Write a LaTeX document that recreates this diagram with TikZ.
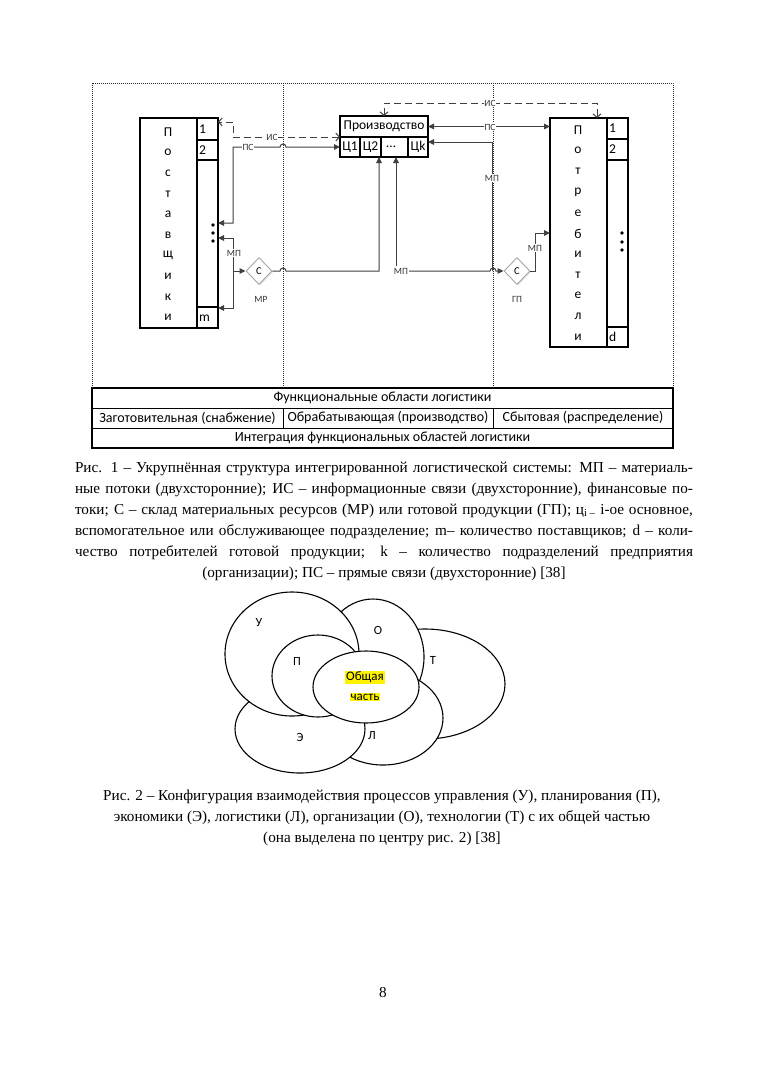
\documentclass[tikz,border=0pt]{standalone}
\usepackage{fontspec}
\setmainfont{Liberation Serif}
\newfontfamily\calibri{Carlito}
\usetikzlibrary{shapes.geometric,arrows.meta,shadows}
\begin{document}
\begin{tikzpicture}[x=1pt,y=-1pt,
  >={Triangle[length=6pt,width=5.5pt]},
  box/.style={draw, line width=1.1pt, inner sep=0pt, outer sep=0pt, anchor=north west, font=\calibri\fontsize{13.5}{15}\selectfont},
  tcell/.style={draw, line width=1pt, inner sep=0pt, outer sep=0pt, anchor=north west, font=\calibri\fontsize{14}{15}\selectfont},
  letter/.style={inner sep=0pt, font=\calibri\fontsize{13.5}{14}\selectfont},
  num/.style={inner sep=0pt, anchor=west, font=\calibri\fontsize{13.5}{15}\selectfont},
  conn/.style={draw=black!75, line width=1pt},
  isd/.style={conn, dash pattern=on 7pt off 4pt, arrows={Straight Barb[length=3.5pt,width=8pt]-Straight Barb[length=3.5pt,width=8pt]}},
  sm/.style={fill=white, inner sep=0.8pt, font=\calibri\fontsize{9.5}{10}\selectfont, text=black!80},
  diam/.style={shape=diamond, draw=black!35, line width=0.9pt, fill=white, minimum width=26pt, minimum height=27pt, inner sep=0pt, font=\calibri\fontsize{10.5}{11}\selectfont, drop shadow={shadow xshift=1.2pt, shadow yshift=-1.2pt, opacity=0.2}},
  dotline/.style={draw=black!85, line width=0.8pt, dash pattern=on 0.8pt off 1.2pt},
  ven/.style={draw, fill=white, line width=1.1pt},
  vl/.style={inner sep=0pt, font=\calibri\fontsize{12.5}{14}\selectfont},
  hl/.style={fill=yellow, inner sep=1pt, font=\calibri\fontsize{13}{14}\selectfont},
  capline/.style={anchor=base, inner sep=0pt, font=\fontsize{15.2}{21}\selectfont},
]
\useasboundingbox[fill=white] (0,0) rectangle (764,1080);

% ---------- dotted frame ----------
\draw[dotline] (92,388) -- (92,83) -- (673,83) -- (673,388);
\draw[dotline] (283,83) -- (283,388);
\draw[dotline] (493,83) -- (493,388);

% ---------- suppliers ----------
\node[box, minimum width=57pt, minimum height=210pt] (supA) at (140,118) {};
\node[box, minimum width=21pt, minimum height=210pt] (supB) at (197,118) {};
\node[box, minimum width=21pt, minimum height=22pt] (sup1) at (197,118) {};
\node[box, minimum width=21pt, minimum height=20pt] (sup2) at (197,140) {};
\node[box, minimum width=21pt, minimum height=21pt] (supm) at (197,307) {};
\node[num] (sn1) at (199,129) {1};
\node[num] (sn2) at (199,150) {2};
\node[num] (snm) at (199,318) {m};
\foreach \c [count=\i from 0] in {П,о,с,т,а,в,щ,и,к,и}
  \node[letter] (sl\i) at (168,{132+20.6*\i}) {\c};
\foreach \y in {225,233,241} \fill (213,\y) circle[radius=1.8];

% ---------- consumers ----------
\node[box, minimum width=57pt, minimum height=229pt] (conA) at (550,118) {};
\node[box, minimum width=21pt, minimum height=229pt] (conB) at (607,118) {};
\node[box, minimum width=21pt, minimum height=21pt] (con1) at (607,118) {};
\node[box, minimum width=21pt, minimum height=21pt] (con2) at (607,139) {};
\node[box, minimum width=21pt, minimum height=20pt] (cond) at (607,327) {};
\node[num] (cn1) at (609,128.5) {1};
\node[num] (cn2) at (609,149.5) {2};
\node[num] (cnd) at (609,337) {d};
\foreach \c [count=\i from 0] in {П,о,т,р,е,б,и,т,е,л,и}
  \node[letter] (cl\i) at (578,{130+20.7*\i}) {\c};
\foreach \y in {233,242,250} \fill (622,\y) circle[radius=1.8];

% ---------- production ----------
\node[box, minimum width=88pt, minimum height=21pt] (prod) at (340,116) {Производство};
\node[box, minimum width=20pt, minimum height=20pt] (c1) at (340,137) {Ц1};
\node[box, minimum width=21pt, minimum height=20pt] (c2) at (360,137) {Ц2};
\node[box, minimum width=27pt, minimum height=20pt] (c3) at (381,137) {\hspace{-7pt}\ldots};
\node[box, minimum width=20pt, minimum height=20pt] (ck) at (408,137) {Цk};

% ---------- warehouses ----------
\node[diam] (dL) at (259,271) {С};
\node[diam] (dR) at (517,271) {С};

% ---------- connectors ----------
% left IS
\draw[isd] (prod.south west) -- (233,137) -- (233,122) -- (supB.east |- 0,122);
% left PS
\draw[conn,<->] (c1.west) -- (286,147) arc[start angle=0,end angle=-180,radius=3] -- (233,147) -- (233,223) -- (supB.east |- 0,223);
% left MP
\draw[conn,<->] (supB.east |- 0,238) -- (233,238) -- (233,308) -- (supB.east |- 0,308);
\draw[conn,->] (233,271) -- (dL.west);
% warehouse MR -> production
\draw[conn,->] (dL.east) -- (280,271) arc[start angle=180,end angle=360,radius=3] -- (379,271) -- ([xshift=-2pt]c2.south east);
% production -> warehouse GP
\draw[conn,->] (396,266) -- ([xshift=1.5pt]c3.south);
\draw[conn,->] (408,271) -- (490,271) arc[start angle=180,end angle=360,radius=3] -- (dR.west);
% GP -> consumers
\draw[conn,->] (dR.east) -- (535,271) -- (535,233) -- (conA.west |- 0,233);
% right IS
\draw[isd] (prod.north) -- ++(0,-13) -| ([xshift=-10pt]conA.north east);
% right PS
\draw[conn,<->] (prod.east) -- (conA.west |- prod.east);
% right MP
\draw[conn,<-] ([yshift=5pt]ck.east) -- (492,142) -- (492,271);

% ---------- connector labels ----------
\node[sm] (lis1) at (272,137) {ИС};
\node[sm] (lps1) at (248,147) {ПС};
\node[sm] (lmp1) at (234,253) {МП};
\node[sm] (lmp2) at (401,271) {МП};
\node[sm] (lmp3) at (535,248) {МП};
\node[sm] (lis2) at (490,103) {ИС};
\node[sm] (lps2) at (490,127) {ПС};
\node[sm] (lmp4) at (492,178) {МП};
\node[sm, fill=none] (lmr) at (261,299) {МР};
\node[sm, fill=none] (lgp) at (517,299) {ГП};

% ---------- table ----------
\node[tcell, minimum width=581pt, minimum height=20pt] (t1) at (92,388) {Функциональные области логистики};
\node[tcell, minimum width=191pt, minimum height=20pt] (t2a) at (92,408) {Заготовительная (снабжение)};
\node[tcell, minimum width=210pt, minimum height=20pt] (t2b) at (283,408) {Обрабатывающая (производство)};
\node[tcell, minimum width=180pt, minimum height=20pt] (t2c) at (493,408) {Сбытовая (распределение)};
\node[tcell, minimum width=581pt, minimum height=20pt] (t3) at (92,428) {Интеграция функциональных областей логистики};
\draw[line width=1.4pt] (t1.north west) rectangle (t3.south east);

% ---------- caption 1 ----------
\node[capline] (c1a) at (384,472) {\makebox[618pt][s]{Рис. 1 – Укрупнённая структура интегрированной логистической системы: МП – материаль-}};
\node[capline] (c1b) at (384,493) {\makebox[618pt][s]{ные потоки (двухсторонние); ИС – информационные связи (двухсторонние), финансовые по-}};
\node[capline] (c1c) at (384,514) {\makebox[618pt][s]{токи; С – склад материальных ресурсов (МР) или готовой продукции (ГП); ц\textsubscript{i –} i-ое основное,}};
\node[capline] (c1d) at (384,535) {\makebox[618pt][s]{вспомогательное или обслуживающее подразделение; m– количество поставщиков; d – коли-}};
\node[capline] (c1e) at (384,556) {\makebox[618pt][s]{чество потребителей готовой продукции; k – количество подразделений предприятия}};
\node[capline] (c1f) at (384,577) {(организации); ПС – прямые связи (двухсторонние) [38]};

% ---------- Venn ----------
\draw[ven] (425,684) ellipse[x radius=80, y radius=55];
\draw[ven] (373,657) ellipse[x radius=51, y radius=58];
\draw[ven] (383,718) ellipse[x radius=60, y radius=47];
\draw[ven] (300,729) ellipse[x radius=65, y radius=44];
\draw[ven] (292,654) ellipse[x radius=67, y radius=62];
\draw[ven] (318,676) ellipse[x radius=46, y radius=41];
\draw[ven] (366,687) ellipse[x radius=53, y radius=36];
\node[vl] (vU) at (259,623) {У};
\node[vl] (vO) at (378,630) {О};
\node[vl] (vP) at (297,661) {П};
\node[vl] (vT) at (433,660) {Т};
\node[vl] (vE) at (300,737) {Э};
\node[vl] (vL) at (372,736) {Л};
\node[hl] (gen1) at (365,677) {Общая};
\node[hl] (gen2) at (365,697) {часть};

% ---------- caption 2 ----------
\node[capline] (c2a) at (382,800) {Рис. 2 – Конфигурация взаимодействия процессов управления (У), планирования (П),};
\node[capline] (c2b) at (382,821) {экономики (Э), логистики (Л), организации (О), технологии (Т) с их общей частью};
\node[capline] (c2c) at (382,842) {(она выделена по центру рис. 2) [38]};

% ---------- page number ----------
\node[capline] (pg) at (383,997) {8};
\end{tikzpicture}
\end{document}
